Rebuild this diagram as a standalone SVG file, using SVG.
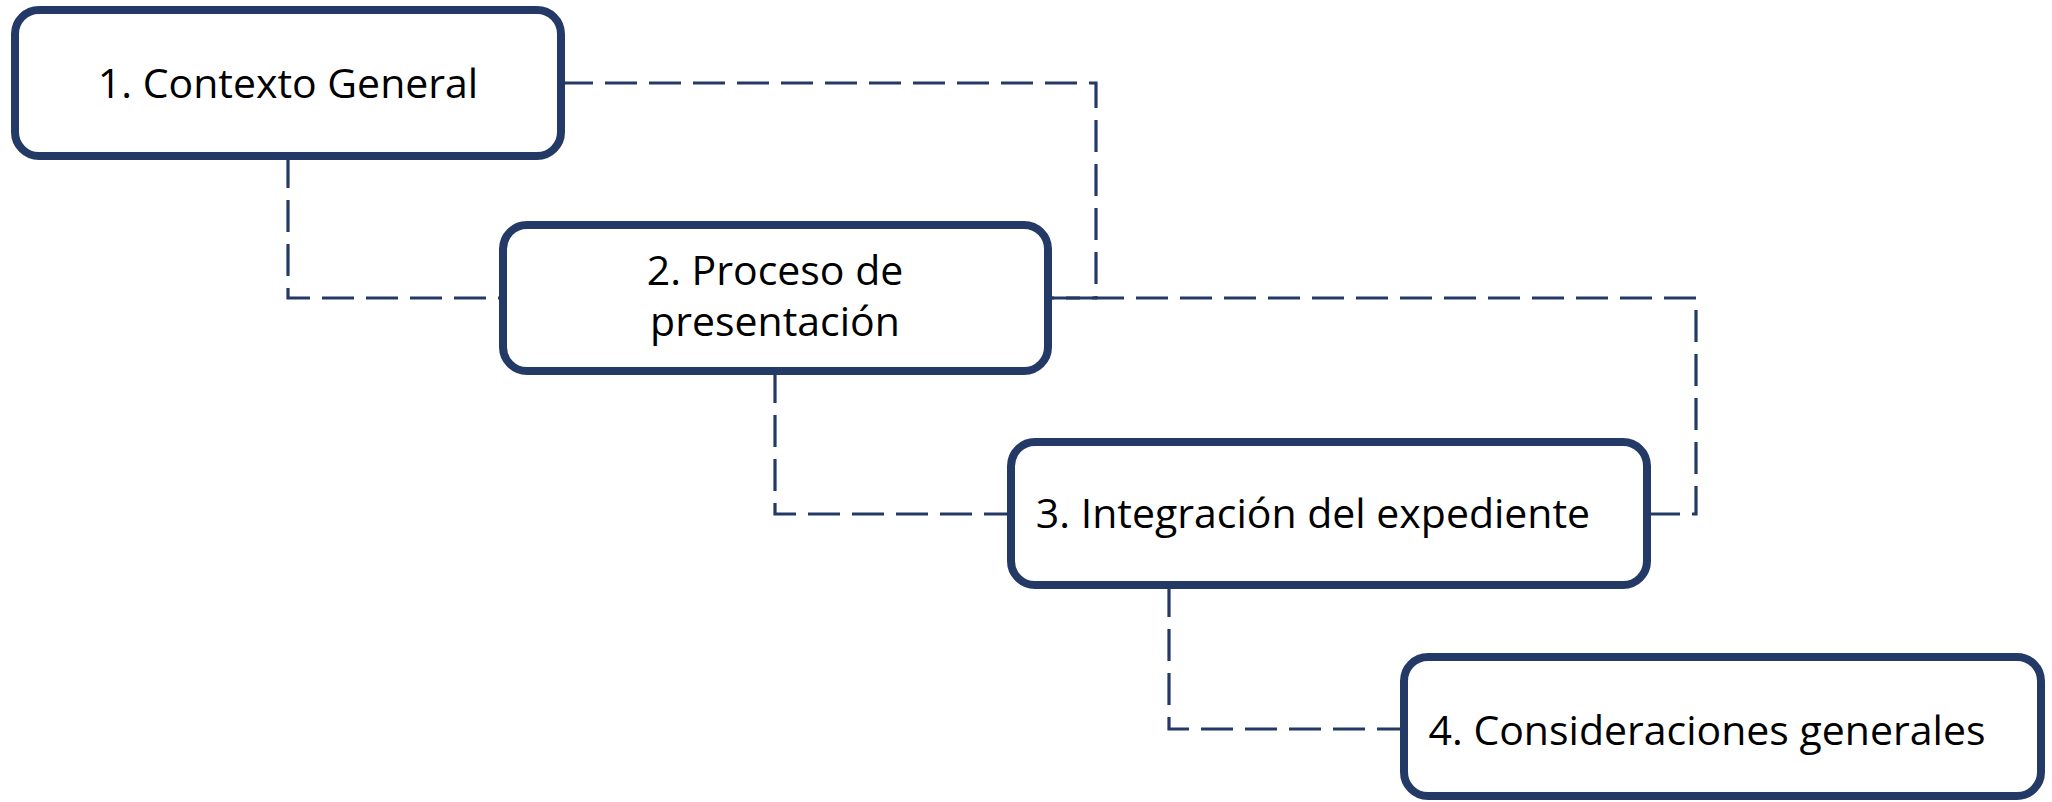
<svg xmlns="http://www.w3.org/2000/svg" width="2052" height="802" viewBox="0 0 2052 802">
<style>
.box{fill:#ffffff;stroke:#243a66;stroke-width:8}
.lbl{font-family:"Open Sans","Noto Sans","Liberation Sans",sans-serif;font-size:41px;fill:#000000;text-anchor:middle}
.con{fill:none;stroke:#243a66;stroke-width:3.2;stroke-dasharray:32 12}
</style>
<rect width="2052" height="802" fill="#ffffff"/>
<g id="connectors">
<path class="con" d="M288,156 V298 H503"/>
<path class="con" d="M561,83 H1096 V298 H1048"/>
<path class="con" d="M1048,298 H1696 V514 H1647"/>
<path class="con" d="M775,371 V514 H1011"/>
<path class="con" d="M1169,585 V729 H1404"/>
</g>
<g id="node1">
<rect class="box" x="15" y="10" width="546" height="146" rx="24"/>
<text class="lbl" x="288" y="98">1. Contexto General</text>
</g>
<g id="node2">
<rect class="box" x="503" y="225" width="545" height="146" rx="24"/>
<text class="lbl" x="775" y="285">2. Proceso de</text>
<text class="lbl" x="775" y="336">presentación</text>
</g>
<g id="node3">
<rect class="box" x="1011" y="442" width="636" height="143" rx="24"/>
<text class="lbl" x="1313" y="528">3. Integración del expediente</text>
</g>
<g id="node4">
<rect class="box" x="1404" y="657" width="637" height="139" rx="24"/>
<text class="lbl" x="1707" y="745">4. Consideraciones generales</text>
</g>
</svg>
